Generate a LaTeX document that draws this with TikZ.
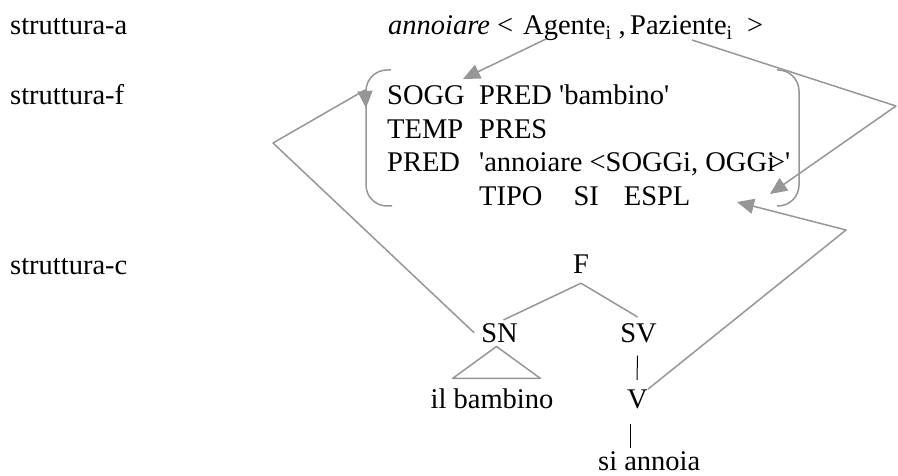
\documentclass[tikz,border=0pt]{standalone}
\usepackage{fontspec}
\setmainfont{Liberation Serif}
\usetikzlibrary{arrows.meta,calc}
\definecolor{ln}{RGB}{150,150,150}
\begin{document}
\begin{tikzpicture}[x=1pt,y=-1pt,
  txt/.style={inner sep=0pt,anchor=base west,font=\fontsize{28.5}{34}\selectfont},
  ctr/.style={txt,anchor=base},
  gl/.style={draw=ln,line width=1.5pt,line join=round},
  garrow/.style={gl,-{Triangle[length=17pt,width=15pt]},fill=none},
  bar/.style={draw=black,line width=1pt},
  brk/.style={draw=ln,line width=1.5pt,rounded corners=21pt}]
\useasboundingbox (0,0) rectangle (898,476);

% row labels
\node[txt] (la) at (10,35) {struttura-a};
\node[txt] (lf) at (10,105) {struttura-f};
\node[txt] (lc) at (10,275) {struttura-c};

% argument structure
\node[txt] (ann) at (388,35) {\textit{annoiare} <};
\node[txt] (ag) at (523,35) {Agente\textsubscript{i} ,};
\node[txt] (paz) at (630,35) {Paziente\textsubscript{i}\ \ >};

% functional structure
\node[txt] (sogg) at (387,105) {SOGG};
\node[txt] (predb) at (479,105) {PRED \textquotesingle bambino\textquotesingle};
\node[txt] (temp) at (387,138.5) {TEMP};
\node[txt] (pres) at (479,138.5) {PRES};
\node[txt] (pred) at (387,172) {PRED};
\node[txt] (predv) at (479,172) {\textquotesingle annoiare <SOGGi, OGG\rlap{i}\kern2pt>\textquotesingle};
\node[txt] (tipo) at (479,205.5) {TIPO\hspace{31pt}SI\hspace{25pt}ESPL};

% brackets around the f-structure
\draw[brk] (391,70) -- (366,70) -- (366,206) -- (392,206);
\draw[brk] (777,70) -- (799,70) -- (799,206) -- (777,206);

% constituent structure
\node[ctr] (F) at (581,273) {F};
\node[ctr] (SN) at (499.5,342) {SN};
\node[ctr] (SV) at (638.5,342) {SV};
\node[ctr] (ilb) at (492,408) {il bambino};
\node[ctr] (V) at (637.5,408) {V};
\node[txt] (sia) at (598,470) {si annoia};

\draw[gl] ($(SN.north)+(4,-3)$) -- ($(F.south)+(0,10)$) -- ($(SV.north)+(-1,-6)$);
\draw[gl] ($(SN.south)+(-47,36)$) -- ($(SN.south)+(-3,4)$) -- ($(SN.south)+(41,36)$) -- cycle;
\draw[bar] ($(SV.south)+(-1,13)$) -- ($(V.north)+(-0.5,-9)$);
\draw[bar] ($(V.south)+(-7.5,15)$) -- ($(V.south)+(-7.5,39)$);

% mapping arrows
\coordinate (agFoot) at (546,39);
\coordinate (soggTip) at (463,79);
\coordinate (pazFoot) at (692,40);
\coordinate (rightBend) at (896,106);
\coordinate (oggTip) at (770,194);
\coordinate (leftBend) at (273,143);
\coordinate (leftTop) at (365,90);
\coordinate (leftTip) at (366,108);
\coordinate (vBend) at (846,230);
\coordinate (siTip) at (737,202);

\draw[garrow] (agFoot) -- (soggTip);
\draw[garrow] (pazFoot) -- (rightBend) -- (oggTip);
\draw[garrow] ($(SN.west)+(-7,0)$) -- (leftBend) -- (leftTop) -- (leftTip);
\draw[garrow] (V.north east) -- (vBend) -- (siTip);
\end{tikzpicture}
\end{document}
